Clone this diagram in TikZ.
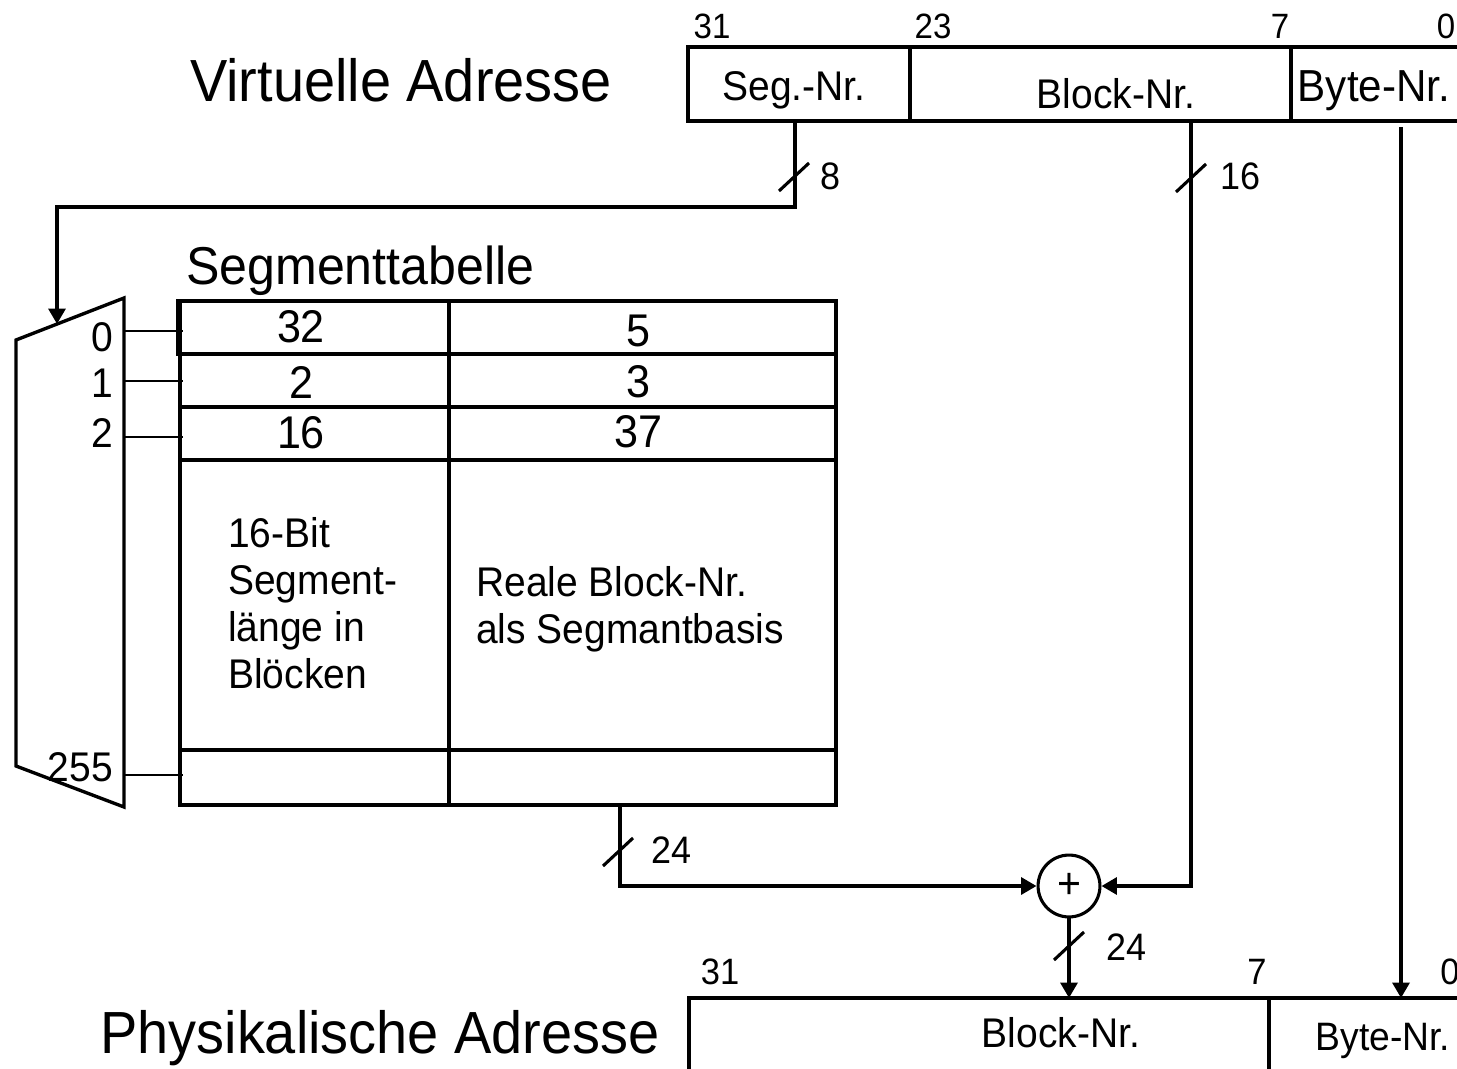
\documentclass[tikz,border=0pt]{standalone}
\usepackage{fontspec}
\setmainfont{Liberation Sans}[FakeStretch=0.94]
\usetikzlibrary{arrows.meta}

\begin{document}
\begin{tikzpicture}[x=0.025cm, y=-0.025cm,
    every node/.style={inner sep=0pt, font=\fontsize{29.5}{35}\selectfont},
    addrbox/.style={line width=2.6pt},
    busline/.style={line width=2.6pt, -{Triangle[length=11pt, width=12pt]}},
    slash/.style={line width=2.2pt},
    bigtitle/.style={font=\fontsize{42.3}{48}\selectfont},
    bitnr/.style={font=\fontsize{25}{30}\selectfont},
    buslabel/.style={font=\fontsize{27.2}{32}\selectfont},
    tabentry/.style={font=\fontsize{32.6}{38}\selectfont},
    celltxt/.style={font=\fontsize{29.5}{35}\selectfont, anchor=base west}]

    \useasboundingbox (0,0) rectangle (1457,1069);
    \clip (0,0) rectangle (1457,1069);

    % Virtual address
    \node[bigtitle, anchor=base] (vtitle) at (401,102) {Virtuelle Adresse};
    \draw[addrbox] (688,47) rectangle (1462,121);
    \draw[addrbox] (910,47) -- (910,121);
    \draw[addrbox] (1291,47) -- (1291,121);
    \node[anchor=base] (vseg) at (794,101) {Seg.-Nr.};
    \node[anchor=base] (vblock) at (1116,109) {Block-Nr.};
    \node[anchor=base, font=\fontsize{31.9}{38}\selectfont] (vbyte) at (1374,102) {Byte-Nr.};
    \foreach \x/\b in {712/31, 933/23, 1280/7, 1446/0}
        \node[bitnr] at (\x,26) {\b};

    % Segment table
    \node[anchor=base west, font=\fontsize{37.9}{44}\selectfont] (tabtitle) at (186,285) {Segmenttabelle};
    \draw[line width=3.4pt] (180,301) rectangle (836,805);
    \draw[line width=3.4pt] (178,301) rectangle (836,354);
    \foreach \y in {407,460,750}
        \draw[line width=2.4pt] (180,\y) -- (836,\y);
    \draw[line width=3.4pt] (449,301) -- (449,805);
    \foreach \y/\a/\b/\yb in {327/32/5/331, 382/2/3/382, 433/16/37/432} {
        \node[tabentry] at (301,\y) {\a};
        \node[tabentry] at (638,\yb) {\b};
    }
    \foreach \t [count=\i] in {16-Bit, Segment-, länge in, Blöcken}
        \node[celltxt] at (228,500+47*\i) {\t};
    \node[celltxt] at (476,596) {Reale Block-Nr.};
    \node[celltxt] at (476,643) {als Segmantbasis};

    % Multiplexer
    \draw[line width=2.4pt] (16,340) -- (124,298) -- (124,807) -- (16,766) -- cycle;
    \foreach \y/\n/\ny in {331/0/337, 381/1/383, 437/2/433, 775/255/767} {
        \draw[line width=1.8pt] (124,\y) -- (183,\y);
        \node[anchor=east] at (113,\ny) {\n};
    }

    % Adder
    \node[draw, circle, line width=2.2pt, minimum size=44pt, font=\fontsize{31}{36}\selectfont] (add) at (1069,886) {+};

    % Physical address
    \node[bigtitle, anchor=base] (ptitle) at (380,1053) {Physikalische Adresse};
    \draw[addrbox] (689,998) rectangle (1462,1080);
    \draw[addrbox] (1269,998) -- (1269,1080);
    \node[anchor=base] (pblock) at (1061,1047) {Block-Nr.};
    \node[anchor=base, font=\fontsize{28.2}{34}\selectfont] (pbyte) at (1383,1050) {Byte-Nr.};
    \foreach \x/\b in {720/31, 1257/7, 1450/0}
        \node[bitnr, font=\fontsize{26.1}{31}\selectfont] at (\x,972) {\b};

    % Connectors
    \coordinate (segout) at (795,121);
    \coordinate (blockout) at (1191,121);
    \coordinate (byteout) at (1401,127);
    \coordinate (muxin) at (57,324);
    \coordinate (tabout) at (620,805);
    \coordinate (pblockin) at (1069,998);
    \coordinate (pbytein) at (1401,998);

    \draw[busline] (segout) -- ++(0,86) -| (muxin);
    \draw[busline] (blockout) |- (add);
    \draw[busline] (tabout) |- (add);
    \draw[busline] (add) -- (pblockin);
    \draw[busline] (byteout) -- (pbytein);

    % Bus widths
    \foreach \sx/\sy/\w/\lx/\ly in {794/177/8/830/176, 1191/178/16/1240/176, 618/852/24/671/850, 1069/946/24/1126/947} {
        \draw[slash] (\sx-15,\sy+14) -- (\sx+15,\sy-14);
        \node[buslabel] at (\lx,\ly) {\w};
    }

\end{tikzpicture}
\end{document}
